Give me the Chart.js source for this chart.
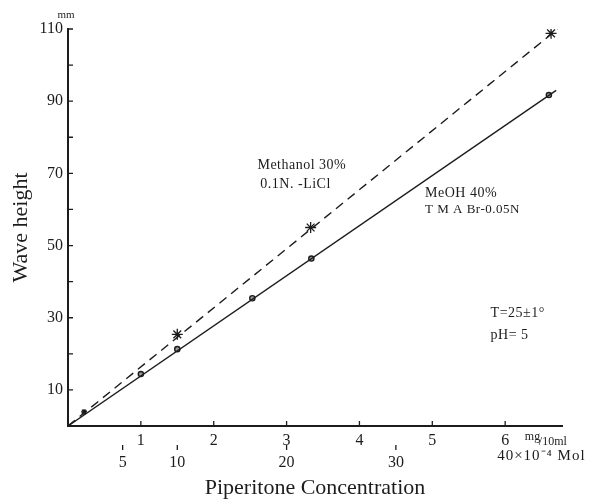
<!DOCTYPE html>
<html>
<head>
<meta charset="utf-8">
<script src="https://cdn.jsdelivr.net/npm/chart.js@4.4.1/dist/chart.umd.min.js"></script>
<style>
  html, body { margin: 0; padding: 0; background: #fff; }
  #wrap { width: 595px; height: 499px; }
</style>
</head>
<body>
<div id="wrap"><canvas id="chart" width="595" height="499"></canvas></div>
<script>
// ── Data ────────────────────────────────────────────────────────
// MeOH 40%, TMA Br 0.05N  (circles, solid line)
const meohX = [1.0, 1.5, 2.53, 3.34, 6.6];
const meohY = [14.4, 21.3, 35.4, 46.4, 91.7];
const meohLineX = [0, 6.7];
const meohLineY = [0, 93];

// Methanol 30%, 0.1N LiCl  (stars, dashed line)
const methX = [0.22, 1.5, 3.33, 6.63];
const methY = [3.9, 25.4, 55, 108.8];
const methLineX = [0, 6.72];
const methLineY = [0, 110];

// axes
const yTicks  = [10, 20, 30, 40, 50, 60, 70, 80, 90, 100, 110];
const yLabels = [10, 30, 50, 70, 90, 110];
const xTicks  = [1, 2, 3, 4, 5, 6];
const molTicks = [5, 10, 20, 30];     // ×10⁻⁴ Mol
const mgPerMol = 0.15;                // 1×10⁻⁴ Mol ≈ 0.15 mg/10ml

const FONT = 'Liberation Serif';
const INK = '#1c1c1c';

const pts = (xs, ys) => xs.map((x, i) => ({ x, y: ys[i] }));

// free text placed in data units
const notes = [
  { text: 'Methanol 30%',    x: 2.60, y: 72.1, size: 14 },
  { text: '0.1N. -LiCl',     x: 2.64, y: 67.1, size: 14 },
  { text: 'MeOH 40%',        x: 4.90, y: 64.4, size: 14 },
  { text: 'T M A Br-0.05N',  x: 4.90, y: 59.9, size: 13 },
  { text: 'T=25±1°',         x: 5.80, y: 31.2, size: 14 },
  { text: 'pH= 5',           x: 5.80, y: 25.1, size: 14 }
];

// ── Plugins ────────────────────────────────────────────────────
const inwardTicks = {
  id: 'inwardTicks',
  afterDraw(chart) {
    const { ctx, scales: { x, y } } = chart;
    ctx.save();
    ctx.strokeStyle = INK;
    ctx.lineWidth = 1.3;
    ctx.beginPath();
    yTicks.forEach(v => {
      const py = y.getPixelForValue(v);
      ctx.moveTo(x.left, py); ctx.lineTo(x.left + 5, py);
    });
    xTicks.forEach(v => {
      const px = x.getPixelForValue(v);
      ctx.moveTo(px, y.bottom); ctx.lineTo(px, y.bottom - 5);
    });
    // little marks above the Mol numbers
    molTicks.forEach(v => {
      const px = x.getPixelForValue(v * mgPerMol);
      ctx.moveTo(px, y.bottom + 19); ctx.lineTo(px, y.bottom + 24);
    });
    ctx.stroke();
    ctx.restore();
  }
};

const textNotes = {
  id: 'textNotes',
  afterDraw(chart) {
    const { ctx, scales: { x, y } } = chart;
    ctx.save();
    ctx.fillStyle = INK;
    ctx.textBaseline = 'middle';
    ctx.textAlign = 'left';
    ctx.letterSpacing = '0.5px';
    notes.forEach(n => {
      ctx.font = `${n.size}px "${FONT}"`;
      ctx.fillText(n.text, x.getPixelForValue(n.x), y.getPixelForValue(n.y));
    });

    // unit labels
    ctx.letterSpacing = '0px';
    ctx.font = `11px "${FONT}"`;
    ctx.textAlign = 'center';
    ctx.fillText('mm', x.left - 2, y.getPixelForValue(110) - 14);

    ctx.textAlign = 'left';
    const ux = x.getPixelForValue(6.27);
    ctx.font = `12px "${FONT}"`;
    ctx.fillText('mg', ux, y.bottom + 11);
    ctx.fillText('/10ml', ux + 14, y.bottom + 16);

    ctx.letterSpacing = '1px';
    ctx.font = `15px "${FONT}"`;
    ctx.fillText('40×10⁻⁴ Mol', x.getPixelForValue(5.89), y.bottom + 30);
    ctx.restore();
  }
};

// ── Chart ──────────────────────────────────────────────────────
new Chart(document.getElementById('chart').getContext('2d'), {
  type: 'scatter',
  data: {
    datasets: [
      { type: 'line', data: pts(meohLineX, meohLineY), borderColor: INK, borderWidth: 1.4,
        pointRadius: 0, fill: false, tension: 0 },
      { type: 'line', data: pts(methLineX, methLineY), borderColor: INK, borderWidth: 1.4,
        borderDash: [9, 6], pointRadius: 0, fill: false, tension: 0 },
      { data: pts(meohX, meohY), pointStyle: 'circle', pointRadius: 2.6,
        borderColor: INK, borderWidth: 1.4, backgroundColor: '#999' },
      { data: pts(methX, methY), pointStyle: 'star', pointRadius: [3, 5.5, 5.5, 5.5],
        borderColor: INK, borderWidth: 1.3, backgroundColor: INK }
    ]
  },
  options: {
    responsive: false,
    animation: false,
    layout: { padding: { left: 0, top: 29, right: 33, bottom: 0 } },
    plugins: { legend: { display: false }, tooltip: { enabled: false } },
    scales: {
      x: {
        type: 'linear', position: 'bottom', weight: 0, min: 0, max: 6.78,
        afterBuildTicks: s => { s.ticks = xTicks.map(v => ({ value: v })); },
        afterFit: s => { s.height = 25; },
        grid: { display: true, drawOnChartArea: false, drawTicks: false },
        border: { display: true, color: INK, width: 2 },
        ticks: { padding: 5, color: INK, font: { family: FONT, size: 16 } }
      },
      x2: {
        type: 'linear', position: 'bottom', weight: 1, min: 0, max: 6.78,
        afterBuildTicks: s => { s.ticks = molTicks.map(v => ({ value: v * mgPerMol })); },
        afterFit: s => { s.height = 48; },
        grid: { display: true, drawOnChartArea: false, drawTicks: false },
        border: { display: false },
        ticks: {
          padding: 2, color: INK, font: { family: FONT, size: 16 },
          callback: (v, i) => molTicks[i]
        },
        title: { display: true, text: 'Piperitone Concentration', color: INK,
                 font: { family: FONT, size: 22, lineHeight: 1 }, padding: { top: 0, bottom: 0 } }
      },
      y: {
        type: 'linear', position: 'left', min: 0, max: 110,
        afterBuildTicks: s => { s.ticks = yTicks.map(v => ({ value: v })); },
        afterFit: s => { s.width = 68; },
        grid: { display: true, drawOnChartArea: false, drawTicks: false },
        border: { display: true, color: INK, width: 2 },
        ticks: {
          padding: 5, color: INK, font: { family: FONT, size: 16 },
          callback: v => (yLabels.includes(v) ? v : '')
        },
        title: { display: true, text: 'Wave height', color: INK,
                 font: { family: FONT, size: 22 }, padding: { top: 8, bottom: 0 } }
      }
    }
  },
  plugins: [inwardTicks, textNotes]
});
</script>
</body>
</html>
